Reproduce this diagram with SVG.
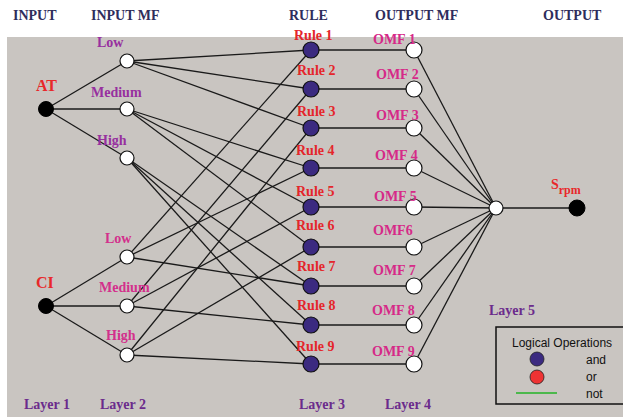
<svg xmlns="http://www.w3.org/2000/svg" width="623" height="417" viewBox="0 0 623 417">
<style>
.hdr{font-family:"Liberation Serif",serif;font-weight:bold;font-size:14px;fill:#2e2d5c}
.lbl{font-family:"Liberation Serif",serif;font-weight:bold;font-size:14px}
.mf1{fill:#97309f}
.mf2{fill:#d3308c}
.rl{fill:#e4262b}
.omf{fill:#d62a88}
.lay{fill:#6b2b8c}
.in{fill:#e8282a;font-size:16px}
.wn{fill:#ffffff;stroke:#111;stroke-width:1.2}
.bn{fill:#000;stroke:#000;stroke-width:1}
.rn{fill:#3b2a80;stroke:#111;stroke-width:1.2}
.cn line{stroke:#1a1a1a;stroke-width:1.3}
.leg{font-family:"Liberation Sans",Arial,sans-serif;font-size:12px;fill:#111}
</style>
<rect x="0" y="0" width="623" height="417" fill="#ffffff"/>
<rect x="7" y="37" width="616" height="380" fill="#c9c5c1"/>
<g id="headers">
<text class="hdr" x="13" y="20">INPUT</text>
<text class="hdr" x="91" y="20">INPUT MF</text>
<text class="hdr" x="289" y="20">RULE</text>
<text class="hdr" x="375" y="20">OUTPUT MF</text>
<text class="hdr" x="543" y="20">OUTPUT</text>
</g>
<g id="connectors" class="cn">
<line x1="46" y1="109" x2="127" y2="61"/>
<line x1="46" y1="109" x2="127" y2="109"/>
<line x1="46" y1="109" x2="127" y2="158"/>
<line x1="46" y1="306" x2="127" y2="257"/>
<line x1="46" y1="306" x2="127" y2="306"/>
<line x1="46" y1="306" x2="127" y2="355"/>
<line x1="127" y1="61" x2="311" y2="50"/>
<line x1="127" y1="61" x2="311" y2="89"/>
<line x1="127" y1="61" x2="311" y2="128"/>
<line x1="127" y1="109" x2="311" y2="168"/>
<line x1="127" y1="109" x2="311" y2="207"/>
<line x1="127" y1="109" x2="311" y2="247"/>
<line x1="127" y1="158" x2="311" y2="286"/>
<line x1="127" y1="158" x2="311" y2="325"/>
<line x1="127" y1="158" x2="311" y2="364"/>
<line x1="127" y1="257" x2="311" y2="50"/>
<line x1="127" y1="257" x2="311" y2="168"/>
<line x1="127" y1="257" x2="311" y2="286"/>
<line x1="127" y1="306" x2="311" y2="89"/>
<line x1="127" y1="306" x2="311" y2="207"/>
<line x1="127" y1="306" x2="311" y2="325"/>
<line x1="127" y1="355" x2="311" y2="128"/>
<line x1="127" y1="355" x2="311" y2="247"/>
<line x1="127" y1="355" x2="311" y2="364"/>
<line x1="311" y1="50" x2="414" y2="50"/>
<line x1="311" y1="89" x2="414" y2="89"/>
<line x1="311" y1="128" x2="414" y2="128"/>
<line x1="311" y1="168" x2="414" y2="168"/>
<line x1="311" y1="207" x2="414" y2="207"/>
<line x1="311" y1="247" x2="414" y2="247"/>
<line x1="311" y1="286" x2="414" y2="286"/>
<line x1="311" y1="325" x2="414" y2="325"/>
<line x1="311" y1="364" x2="414" y2="364"/>
<line x1="414" y1="50" x2="496" y2="208"/>
<line x1="414" y1="89" x2="496" y2="208"/>
<line x1="414" y1="128" x2="496" y2="208"/>
<line x1="414" y1="168" x2="496" y2="208"/>
<line x1="414" y1="207" x2="496" y2="208"/>
<line x1="414" y1="247" x2="496" y2="208"/>
<line x1="414" y1="286" x2="496" y2="208"/>
<line x1="414" y1="325" x2="496" y2="208"/>
<line x1="414" y1="364" x2="496" y2="208"/>
<line x1="496" y1="208" x2="577" y2="208"/>
</g>
<g id="AT"><circle class="bn" cx="46" cy="109" r="7.5"/><text class="lbl in" x="36" y="91">AT</text></g>
<g id="CI"><circle class="bn" cx="46" cy="306" r="7.5"/><text class="lbl in" x="36" y="288">CI</text></g>
<g id="AT_Low"><circle class="wn" cx="127" cy="61" r="7"/><text class="lbl mf1" x="97" y="47">Low</text></g>
<g id="AT_Medium"><circle class="wn" cx="127" cy="109" r="7"/><text class="lbl mf1" x="91" y="97">Medium</text></g>
<g id="AT_High"><circle class="wn" cx="127" cy="158" r="7"/><text class="lbl mf1" x="97" y="145">High</text></g>
<g id="CI_Low"><circle class="wn" cx="127" cy="257" r="7"/><text class="lbl mf2" x="105" y="243">Low</text></g>
<g id="CI_Medium"><circle class="wn" cx="127" cy="306" r="7"/><text class="lbl mf2" x="99" y="292">Medium</text></g>
<g id="CI_High"><circle class="wn" cx="127" cy="355" r="7"/><text class="lbl mf2" x="106" y="340">High</text></g>
<g id="Rule1"><circle class="rn" cx="311" cy="50" r="8"/><text class="lbl rl" x="294" y="40">Rule 1</text></g>
<g id="Rule2"><circle class="rn" cx="311" cy="89" r="8"/><text class="lbl rl" x="297" y="75">Rule 2</text></g>
<g id="Rule3"><circle class="rn" cx="311" cy="128" r="8"/><text class="lbl rl" x="297" y="116">Rule 3</text></g>
<g id="Rule4"><circle class="rn" cx="311" cy="168" r="8"/><text class="lbl rl" x="296" y="155">Rule 4</text></g>
<g id="Rule5"><circle class="rn" cx="311" cy="207" r="8"/><text class="lbl rl" x="296" y="196">Rule 5</text></g>
<g id="Rule6"><circle class="rn" cx="311" cy="247" r="8"/><text class="lbl rl" x="296" y="230">Rule 6</text></g>
<g id="Rule7"><circle class="rn" cx="311" cy="286" r="8"/><text class="lbl rl" x="297" y="271">Rule 7</text></g>
<g id="Rule8"><circle class="rn" cx="311" cy="325" r="8"/><text class="lbl rl" x="297" y="310">Rule 8</text></g>
<g id="Rule9"><circle class="rn" cx="311" cy="364" r="8"/><text class="lbl rl" x="296" y="351">Rule 9</text></g>
<g id="OMF1"><circle class="wn" cx="414" cy="50" r="8"/><text class="lbl omf" x="373" y="44">OMF 1</text></g>
<g id="OMF2"><circle class="wn" cx="414" cy="89" r="8"/><text class="lbl omf" x="376" y="79">OMF 2</text></g>
<g id="OMF3"><circle class="wn" cx="414" cy="128" r="8"/><text class="lbl omf" x="376" y="120">OMF 3</text></g>
<g id="OMF4"><circle class="wn" cx="414" cy="168" r="8"/><text class="lbl omf" x="375" y="160">OMF 4</text></g>
<g id="OMF5"><circle class="wn" cx="414" cy="207" r="8"/><text class="lbl omf" x="374" y="201">OMF 5</text></g>
<g id="OMF6"><circle class="wn" cx="414" cy="247" r="8"/><text class="lbl omf" x="373" y="235">OMF6</text></g>
<g id="OMF7"><circle class="wn" cx="414" cy="286" r="8"/><text class="lbl omf" x="373" y="275">OMF 7</text></g>
<g id="OMF8"><circle class="wn" cx="414" cy="325" r="8"/><text class="lbl omf" x="372" y="315">OMF 8</text></g>
<g id="OMF9"><circle class="wn" cx="414" cy="364" r="8"/><text class="lbl omf" x="372" y="356">OMF 9</text></g>
<g id="Aggregate"><circle class="wn" cx="496" cy="208" r="7"/></g>
<g id="Srpm"><circle class="bn" cx="577" cy="208" r="8"/><text class="lbl" fill="#e8282a" x="551" y="189" font-size="19px">S<tspan font-size="12px" dy="5">rpm</tspan></text></g>
<g id="layers">
<text class="lbl lay" x="24" y="409">Layer 1</text>
<text class="lbl lay" x="100" y="409">Layer 2</text>
<text class="lbl lay" x="299" y="409">Layer 3</text>
<text class="lbl lay" x="385" y="409">Layer 4</text>
<text class="lbl lay" x="489" y="315">Layer 5</text>
</g>
<g id="legend">
<rect x="496" y="327" width="130" height="77" fill="none" stroke="#111" stroke-width="1.5"/>
<text class="leg" x="512" y="347">Logical Operations</text>
<circle cx="537" cy="359" r="7" fill="#3b2a80" stroke="#222" stroke-width="0.8"/>
<text class="leg" x="586" y="364">and</text>
<circle cx="537" cy="377" r="7" fill="#ee3333" stroke="#222" stroke-width="0.8"/>
<text class="leg" x="586" y="381">or</text>
<line x1="516" y1="393" x2="557" y2="393" stroke="#4cb84c" stroke-width="2"/>
<text class="leg" x="586" y="398">not</text>
</g>
</svg>
